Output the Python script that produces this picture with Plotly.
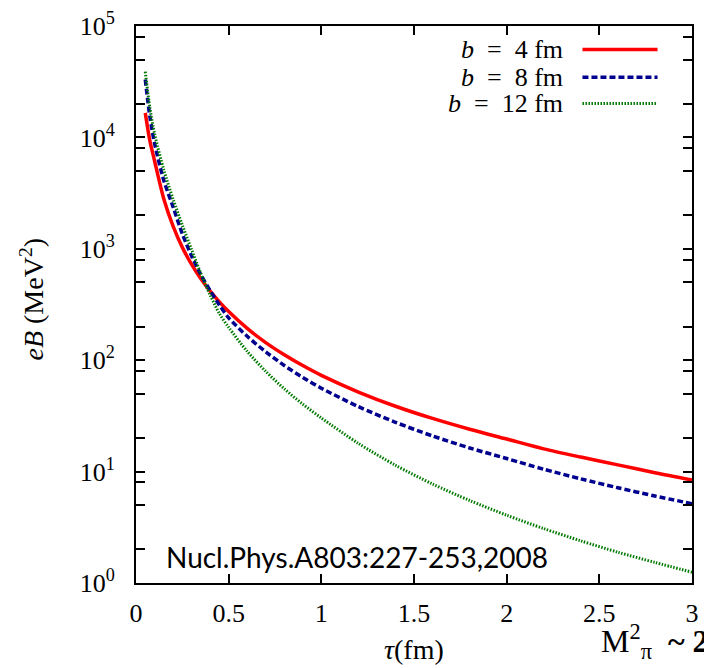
import plotly.graph_objects as go

# proper time tau (fm)
tau = [0.05, 0.075, 0.1, 0.15, 0.2, 0.25, 0.3, 0.35, 0.4, 0.45, 0.5, 0.6, 0.7,
       0.8, 0.9, 1.0, 1.2, 1.4, 1.6, 1.8, 2.0, 2.2, 2.4, 2.6, 2.8, 3.0]

# eB (MeV^2) for each impact parameter
eB_b4 = [16600, 9290, 6170, 2800, 1600, 1030, 724, 538, 417, 334, 273, 193, 144,
         112, 89.5, 73.1, 51.8, 38.6, 30.0, 24.0, 19.6, 16.0, 13.5, 11.5, 9.77, 8.41]
eB_b8 = [33100, 15300, 8870, 4110, 2380, 1360, 863, 586, 421, 313, 240, 164, 119,
         89.7, 70.0, 56.1, 38.3, 27.7, 20.9, 16.3, 13.1, 10.5, 8.61, 7.16, 6.04, 5.15]
eB_b12 = [38900, 18400, 10800, 5100, 2790, 1630, 979, 598, 385, 262, 197, 120, 79.4,
          55.3, 40.3, 30.3, 17.9, 11.4, 7.74, 5.51, 4.06, 3.08, 2.39, 1.89, 1.53, 1.25]

series_names = ["<i>b</i>&nbsp; = &nbsp;4 fm", "<i>b</i>&nbsp; = &nbsp;8 fm",
                "<i>b</i>&nbsp; = &nbsp;12 fm"]
series_colors = ["#ff0000", "#00008f", "#007a00"]
series_dash = ["solid", "6px,3px", "1.5px,1.5px"]
series_width = [3.5, 3.5, 3]

x_ticks = [0, 0.5, 1, 1.5, 2, 2.5, 3]
x_ticktext = ["0", "0.5", "1", "1.5", "2", "2.5", "3"]

y_ticks = []
y_ticktext = []
for k in range(0, 6):
    for m in ([1, 2, 5, 8] if k < 5 else [1]):
        y_ticks.append(m * 10 ** k)
        y_ticktext.append(f"10<sup>{k}</sup>" if m == 1 else "")

SERIF = "Liberation Serif"

fig = go.Figure()
for ys, name, col, dash, w in zip([eB_b4, eB_b8, eB_b12], series_names,
                                  series_colors, series_dash, series_width):
    fig.add_trace(go.Scatter(x=tau, y=ys, mode="lines", name=name,
                             line=dict(color=col, dash=dash, width=w, shape="spline",
                                       smoothing=0.8),
                             showlegend=False))

fig.update_xaxes(range=[0, 3], tickvals=x_ticks, ticktext=x_ticktext,
                 ticks="inside", ticklen=9, tickwidth=1.5, tickcolor="black",
                 showline=True, linewidth=2, linecolor="black", mirror="ticks",
                 showgrid=False, zeroline=False, automargin=False,
                 tickfont=dict(family=SERIF, size=26, color="black"),
                 ticklabelstandoff=6)
fig.update_yaxes(type="log", range=[0, 5], tickvals=y_ticks, ticktext=y_ticktext,
                 ticks="inside", ticklen=9, tickwidth=1.5, tickcolor="black",
                 showline=True, linewidth=2, linecolor="black", mirror="ticks",
                 showgrid=False, zeroline=False, automargin=False,
                 tickfont=dict(family=SERIF, size=26, color="black"),
                 ticklabelstandoff=14)

# legend drawn manually (text on the left of the sample line)
leg_y = [0.958, 0.908, 0.861]
for yy, name, col, dash, w in zip(leg_y, series_names, series_colors,
                                  series_dash, series_width):
    fig.add_annotation(x=0.771, y=yy, xref="paper", yref="paper", text=name,
                       showarrow=False, xanchor="right", yanchor="middle",
                       font=dict(family=SERIF, size=26, color="black"))
    fig.add_shape(type="line", xref="paper", yref="paper", x0=0.803, x1=0.938,
                  y0=yy, y1=yy, line=dict(color=col, dash=dash, width=w))

fig.add_annotation(x=-0.186, y=0.51, xref="paper", yref="paper",
                   text="<i>eB</i> (MeV<sup>2</sup>)", textangle=-90, showarrow=False,
                   xanchor="center", yanchor="middle",
                   font=dict(family=SERIF, size=28, color="black"))
fig.add_annotation(x=0.5, y=-0.12, xref="paper", yref="paper",
                   text="<i>τ</i>(fm)", showarrow=False,
                   xanchor="center", yanchor="middle",
                   font=dict(family=SERIF, size=28, color="black"))
fig.add_annotation(x=0.832, y=-0.105, xref="paper", yref="paper",
                   text="M<sup>2</sup><sub>π</sub>&nbsp; <b>~ 2</b>", showarrow=False,
                   xanchor="left", yanchor="middle",
                   font=dict(family=SERIF, size=32, color="black"))
fig.add_annotation(x=0.05, y=0.046, xref="paper", yref="paper",
                   text="Nucl.Phys.A803:227-253,2008", showarrow=False,
                   xanchor="left", yanchor="middle",
                   font=dict(family="Lato", size=28, color="black"))

fig.update_layout(width=704, height=668,
                  margin=dict(l=136, r=12, t=26, b=85),
                  paper_bgcolor="white", plot_bgcolor="white",
                  showlegend=False)

fig.write_html("out.html")
